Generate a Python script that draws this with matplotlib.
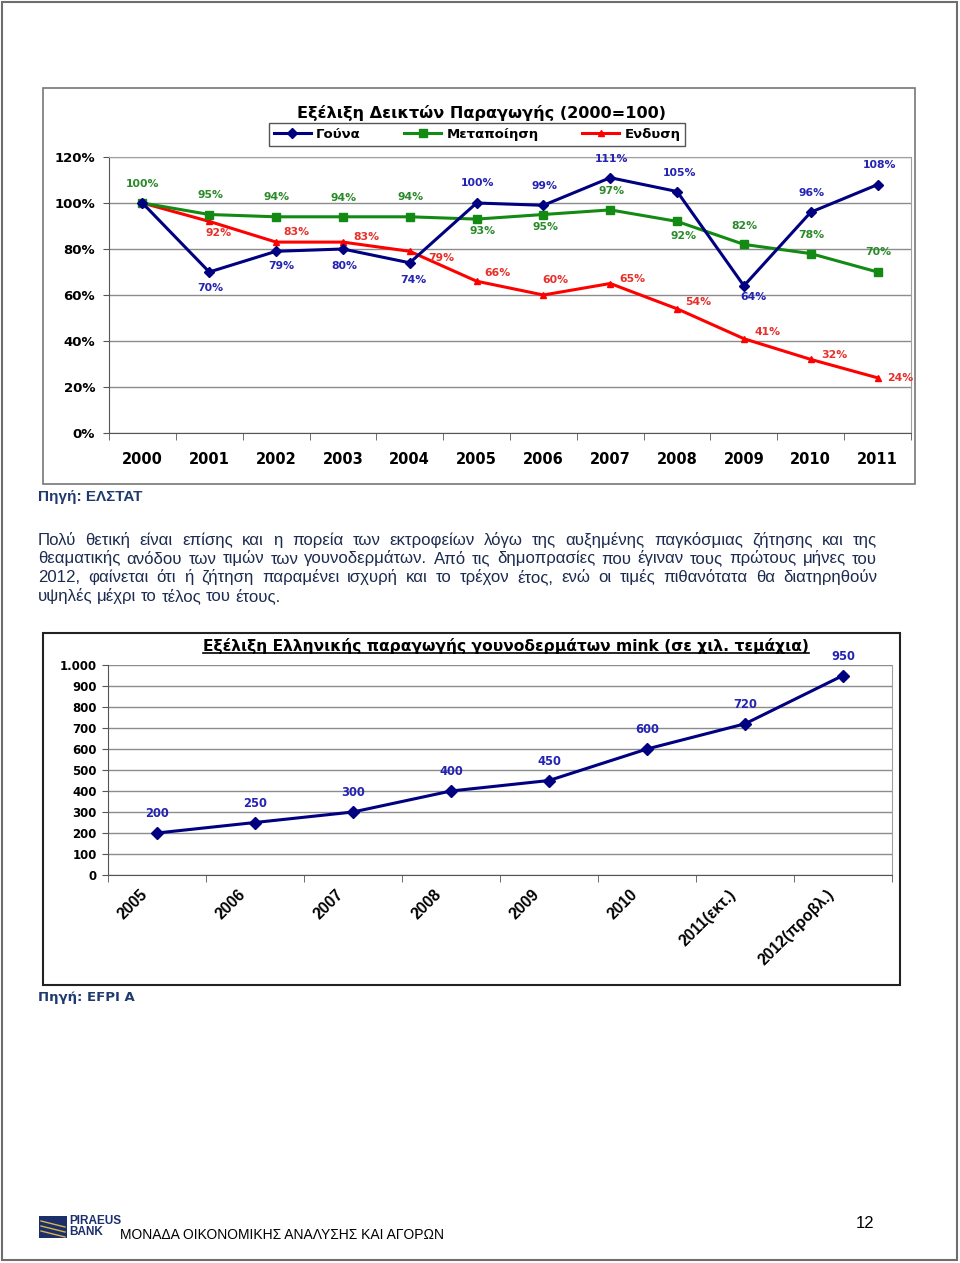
import matplotlib
matplotlib.use("Agg")
import matplotlib.pyplot as plt
import matplotlib.transforms as mtransforms
from matplotlib.patches import Rectangle
from matplotlib.ticker import FixedLocator

W, H = 960, 1263

# ---- data: chart 1 (indices 2000=100)
years = ["2000", "2001", "2002", "2003", "2004", "2005",
         "2006", "2007", "2008", "2009", "2010", "2011"]
gouna = [100, 70, 79, 80, 74, 100, 99, 111, 105, 64, 96, 108]
metapoiisi = [100, 95, 94, 94, 94, 93, 95, 97, 92, 82, 78, 70]
endysi = [100, 92, 83, 83, 79, 66, 60, 65, 54, 41, 32, 24]

# ---- data: chart 2 (mink production, thousand pieces)
mink_years = ["2005", "2006", "2007", "2008", "2009", "2010",
              "2011(εκτ.)", "2012(προβλ.)"]
mink = [200, 250, 300, 400, 450, 600, 720, 950]

# label offsets in pixels (dx, dy; dy down), None = no label
off_gouna = [None, (1, 16), (5, 15), (1, 17), (4, 17), (1, -20), (1, -19),
             (1, -19), (2, -19), (10, 11), (1, -19), (2, -20)]
off_meta = [(0, -19), (1, -19), (0, -20), (1, -19), (1, -20), (6, 12),
            (2, 12), (1, -19), (6, 15), (1, -18), (1, -19), (1, -20)]
off_end = [None, (9, 12), (20, -10), (24, -5), (32, 7), (21, -8), (12, -15),
           (22, -5), (21, -7), (24, -7), (24, -4), (23, 0)]

paragraph = [
    "Πολύ θετική είναι επίσης και η πορεία των εκτροφείων λόγω της αυξημένης παγκόσμιας ζήτησης και της",
    "θεαματικής ανόδου των τιμών των γουνοδερμάτων. Από τις δημοπρασίες που έγιναν τους πρώτους μήνες του",
    "2012, φαίνεται ότι ή ζήτηση παραμένει ισχυρή και το τρέχον έτος, ενώ οι τιμές πιθανότατα θα διατηρηθούν",
    "υψηλές μέχρι το τέλος του έτους.",
]


def fx(x):
    return x / W


def fy(y):
    return 1 - y / H


def box(x0, y0, x1, y1, **kw):
    fig.add_artist(Rectangle((fx(x0), fy(y1)), fx(x1) - fx(x0), fy(y0) - fy(y1),
                             transform=fig.transFigure, fill=False, **kw))


ARIAL = ["Liberation Sans", "DejaVu Sans"]
plt.rcParams['font.family'] = ['DejaVu Sans']
fig = plt.figure(figsize=(W / 100, H / 100), dpi=100)

# page frame and chart frames
box(2, 2, 957, 1260, edgecolor="#6e6e6e", lw=1.5)
box(43, 88, 915, 484, edgecolor="#777777", lw=1.2)
box(43, 633, 900, 985, edgecolor="#222222", lw=1.5)

NAVY, GREEN, RED = "#000080", "#138a13", "#ff0000"
LNAVY, LGREEN, LRED = "#2323b4", "#2a8a2a", "#e8302a"

# ================= chart 1 =================
ax1 = fig.add_axes([fx(109), fy(433), fx(911) - fx(109), fy(157) - fy(433)])
xs = list(range(len(years)))
ax1.plot(xs, gouna, color=NAVY, lw=2.2, marker="D", ms=5, label="Γούνα", zorder=5)
ax1.plot(xs, metapoiisi, color=GREEN, lw=2.2, marker="s", ms=5.5, label="Μεταποίηση", zorder=4)
ax1.plot(xs, endysi, color=RED, lw=2.2, marker="^", ms=5, label="Ενδυση", zorder=3)
ax1.set_xlim(-0.5, len(years) - 0.5)
ax1.set_ylim(0, 120)
ax1.set_yticks(range(0, 121, 20))
ax1.set_yticklabels([f"{v}%" for v in range(0, 121, 20)], fontsize=9.5, fontweight="bold")
ax1.set_xticks(xs)
ax1.set_xticklabels(years, fontsize=10.5, fontweight="bold")
ax1.xaxis.set_minor_locator(FixedLocator([i - 0.5 for i in range(len(years) + 1)]))
ax1.tick_params(axis="x", which="major", length=0, pad=14)
ax1.tick_params(axis="x", which="minor", length=5, color="#555555")
ax1.tick_params(axis="y", length=4, color="#555555", pad=6)
ax1.grid(axis="y", color="#8c8c8c", lw=1)
ax1.set_axisbelow(True)
for s in ["top", "right"]:
    ax1.spines[s].set_color("#a0a0a0")
for s in ["left", "bottom"]:
    ax1.spines[s].set_color("#555555")

for vals, offs, col in [(gouna, off_gouna, LNAVY), (metapoiisi, off_meta, LGREEN),
                        (endysi, off_end, LRED)]:
    for i, (v, o) in enumerate(zip(vals, offs)):
        if o is None:
            continue
        ax1.annotate(f"{v}%", (i, v), xytext=(o[0] * 0.72, -o[1] * 0.72),
                     textcoords="offset points", ha="center", va="center",
                     fontsize=7.8, fontweight="bold", color=col, zorder=6)

fig.text(fx(481), fy(113), "Εξέλιξη Δεικτών Παραγωγής (2000=100)", ha="center", va="center",
         fontsize=11.6, fontweight="bold")
leg = ax1.legend(loc="center", bbox_to_anchor=(fx(477), fy(134.5)), bbox_transform=fig.transFigure,
                 ncol=3, fancybox=False, edgecolor="#555555", framealpha=1,
                 prop={"weight": "bold", "size": 9.5}, handlelength=2.8, handletextpad=0.4,
                 columnspacing=3.3, borderpad=0.35)
leg.get_frame().set_linewidth(1)

# ================= chart 2 =================
ax2 = fig.add_axes([fx(108), fy(875), fx(892) - fx(108), fy(665) - fy(875)])
xs2 = list(range(len(mink_years)))
ax2.plot(xs2, mink, color=NAVY, lw=2.2, marker="D", ms=6, zorder=5)
ax2.set_xlim(-0.5, len(mink_years) - 0.5)
ax2.set_ylim(0, 1000)
ticks2 = list(range(0, 1001, 100))
ax2.set_yticks(ticks2)
ax2.set_yticklabels([f"{v:,}".replace(",", ".") for v in ticks2], fontsize=8.5, fontweight="bold")
ax2.set_xticks(xs2)
ax2.xaxis.set_minor_locator(FixedLocator([i - 0.5 for i in range(len(mink_years) + 1)]))
ax2.tick_params(axis="x", which="major", length=0, pad=8.5)
ax2.tick_params(axis="x", which="minor", length=5, color="#555555")
ax2.tick_params(axis="y", length=4, color="#555555", pad=4)
ax2.set_xticklabels(mink_years, fontsize=11.3, fontweight="bold", rotation=45, ha="right",
                    va="top", rotation_mode="anchor", family=ARIAL)
shift = mtransforms.ScaledTranslation(-17 / 100, 0, fig.dpi_scale_trans)
for lab in ax2.get_xticklabels():
    lab.set_transform(lab.get_transform() + shift)
ax2.grid(axis="y", color="#8c8c8c", lw=1)
ax2.set_axisbelow(True)
ax2.spines["top"].set_visible(False)
ax2.spines["right"].set_color("#a0a0a0")
for s in ["left", "bottom"]:
    ax2.spines[s].set_color("#555555")
for i, v in enumerate(mink):
    ax2.annotate(f"{v}", (i, v), xytext=(0, 13.7), textcoords="offset points",
                 ha="center", va="center", fontsize=8.3, fontweight="bold", color=LNAVY)

t2 = fig.text(fx(506), fy(646), "Εξέλιξη Ελληνικής παραγωγής γουνοδερμάτων mink (σε χιλ. τεμάχια)",
              ha="center", va="center", fontsize=11.2, fontweight="bold")

# ================= text blocks =================
SRC = "#1f3a6e"
TXT = "#1c2b4f"
fig.text(fx(38), fy(497), "Πηγή: ΕΛΣΤΑΤ", ha="left", va="center", fontsize=11,
         fontweight="bold", color=SRC, family=ARIAL)
fig.text(fx(38), fy(998), "Πηγή: EFPI A", ha="left", va="center", fontsize=9.5,
         fontweight="bold", color=SRC)

fig.canvas.draw()
renderer = fig.canvas.get_renderer()

# underline chart 2 title
bb = t2.get_window_extent(renderer)
fig.add_artist(plt.Line2D([bb.x0 / W, bb.x1 / W], [(bb.y0 + 1) / H] * 2,
                          transform=fig.transFigure, color="black", lw=1.2))

# justified paragraph (baselines)
line_y = [545, 563.5, 582, 601]
left, right = 38, 877
pfont = dict(fontsize=12.1, color=TXT, family=ARIAL, va="baseline", ha="left")
for k, (line, yy) in enumerate(zip(paragraph, line_y)):
    words = line.split(" ")
    objs = [fig.text(0, fy(yy), w, **pfont) for w in words]
    widths = [o.get_window_extent(renderer).width for o in objs]
    if k < len(paragraph) - 1:
        gap = (right - left - sum(widths)) / (len(words) - 1)
    else:
        sp = fig.text(0, 0, "a a", **pfont)
        sp2 = fig.text(0, 0, "aa", **pfont)
        gap = sp.get_window_extent(renderer).width - sp2.get_window_extent(renderer).width
        sp.remove()
        sp2.remove()
    x = left
    for o, w in zip(objs, widths):
        o.set_x(fx(x))
        x += w + gap

# ================= footer =================
fig.add_artist(Rectangle((fx(39), fy(1238)), 28 / W, 22 / H, transform=fig.transFigure,
                         facecolor="#1b2f6b", edgecolor="none"))
for dy in (5, 10, 15):
    fig.add_artist(plt.Line2D([fx(41), fx(65)], [fy(1216 + dy), fy(1222 + dy)],
                              transform=fig.transFigure, color="#d9b44a", lw=1))
fig.text(fx(69), fy(1221), "PIRAEUS", ha="left", va="center", fontsize=8.5, fontweight="bold",
         color="#1b2f6b", family=ARIAL)
fig.text(fx(69), fy(1232), "BANK", ha="left", va="center", fontsize=8.5, fontweight="bold",
         color="#1b2f6b", family=ARIAL)
fig.text(fx(120), fy(1235), "ΜΟΝΑΔΑ ΟΙΚΟΝΟΜΙΚΗΣ ΑΝΑΛΥΣΗΣ ΚΑΙ ΑΓΟΡΩΝ", ha="left", va="center",
         fontsize=10, family=ARIAL)
fig.text(fx(865), fy(1224), "12", ha="center", va="center", fontsize=12, family=ARIAL)

fig.savefig("out.png", dpi=100)
